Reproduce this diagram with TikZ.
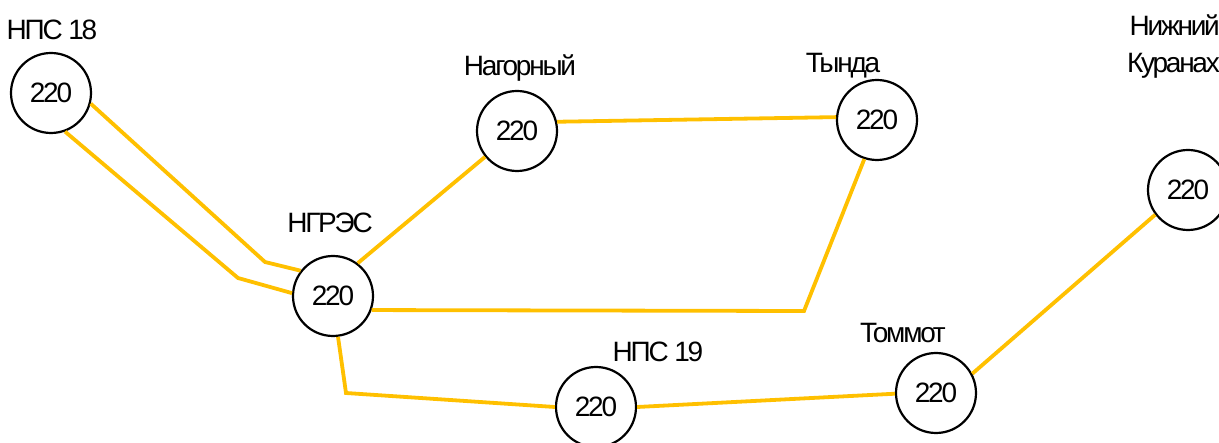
\documentclass[tikz,border=0pt]{standalone}
\usepackage{fontspec}
\setmainfont{Liberation Sans}[LetterSpace=-8]
\begin{document}
\begin{tikzpicture}[x=1pt,y=-1pt,
  bus/.style={circle,draw=black,line width=2.2pt,minimum size=80pt,inner sep=0pt,font=\fontsize{28}{30}\selectfont},
  lbl/.style={font=\fontsize{28}{37}\selectfont,inner sep=0pt},
  line/.style={draw=linecol,line width=3.8pt}]
\definecolor{linecol}{HTML}{FFC000}
\useasboundingbox (0,0) rectangle (1219,443);

% substations
\node[bus] (nps18) at (51,93) {220};
\node[bus] (nag) at (517,131) {220};
\node[bus] (tyn) at (877,120) {220};
\node[bus] (nkur) at (1188,190) {220};
\node[bus] (ngres) at (333,296) {220};
\node[bus] (nps19) at (596,407) {220};
\node[bus] (tom) at (936,393) {220};

% names
\node[lbl] (l18) at (52,30) {НПС 18};
\node[lbl] (lnag) at (520,68) {Нагорный};
\node[lbl] (ltyn) at (843,66) {Тында};
\node[lbl,anchor=east,align=right] (lnk) at (1220,47) {Нижний\\Куранах};
\node[lbl] (lng) at (330,223) {НГРЭС};
\node[lbl] (l19) at (658,352) {НПС 19};
\node[lbl] (ltom) at (903,333) {Томмот};

% bend points
\coordinate (b1) at (265,262);
\coordinate (b2) at (238,278);
\coordinate (b3) at (804,311);
\coordinate (b4) at (346,393);

% 220 kV lines
\draw[line] (nps18.-15) -- (b1) -- (ngres.142);
\draw[line] (nps18.-70) -- (b2) -- (ngres.176);
\draw[line] (ngres.53) -- (nag.219);
\draw[line] (nag.13) -- (tyn.176);
\draw[line] (ngres.-20) -- (b3) -- (tyn.-108);
\draw[line] (ngres.-83) -- (b4) -- (nps19.180);
\draw[line] (nps19.0) -- (tom.181);
\draw[line] (tom.28) -- (nkur.217);
\end{tikzpicture}
\end{document}
